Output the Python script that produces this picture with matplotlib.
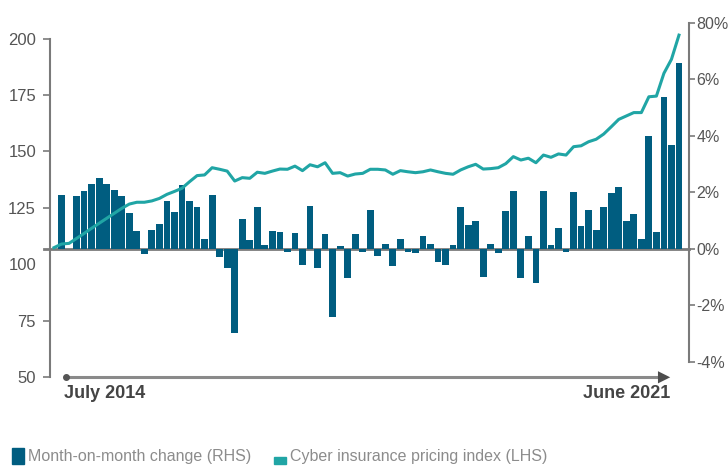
import numpy as np
import matplotlib
matplotlib.use("Agg")
import matplotlib.pyplot as plt

plt.rcParams['font.family'] = ['Liberation Sans', 'DejaVu Sans']

# === data ===
# month-on-month change (%), right axis
mom_change = [1.89, 0.0, 1.86, 2.04, 2.29, 2.50, 2.29, 2.08, 1.86, 1.26, 0.63, -0.18, 0.66, 0.87, 1.69, 1.30, 2.25, 1.69, 1.47, 0.34,
              1.89, -0.28, -0.67, -2.97, 1.05, 0.31, 1.47, 0.13, 0.63, 0.59, -0.11, 0.55, -0.57, 1.51, -0.67, 0.52, -2.41, 0.09, -1.03, 0.52,
              -0.11, 1.37, -0.25, 0.17, -0.60, 0.34, -0.11, -0.14, 0.45, 0.17, -0.46, -0.57, 0.13, 1.47, 0.84, 0.98, -0.99, 0.17, -0.14, 1.33,
              2.04, -1.03, 0.45, -1.20, 2.04, 0.13, 0.73, -0.11, 2.01, 0.80, 1.37, 0.66, 1.47, 1.97, 2.18, 0.98, 1.23, 0.34, 3.99, 0.59, 5.37, 3.67, 6.57]

# cyber insurance pricing index, left axis (one base point before the first bar)
pricing_index = [107.4, 109.0, 109.3, 111.5, 113.7, 116.0, 118.2, 120.4, 122.6, 124.8, 126.7, 127.5, 127.5, 128.1, 129.2, 131.0, 132.3, 133.7, 136.6, 139.3, 139.6,
                 142.8, 142.1, 141.3, 136.9, 138.4, 138.1, 140.8, 140.3, 141.3, 142.2, 142.1, 143.5, 141.5, 144.1, 143.2, 145.0, 140.3, 140.6, 139.1, 140.0,
                 140.3, 142.1, 142.1, 141.8, 139.9, 141.5, 141.0, 140.6, 141.0, 141.8, 141.0, 140.3, 139.9, 141.8, 143.2, 144.3, 142.2, 142.4, 142.8, 144.6,
                 147.7, 146.2, 147.0, 145.0, 148.4, 147.4, 148.9, 148.4, 152.1, 152.5, 154.3, 155.4, 157.7, 160.9, 164.2, 165.7, 167.2, 167.2, 174.2, 174.5,
                 184.6, 190.8, 201.5]

left_ticks = [50, 75, 100, 125, 150, 175, 200]
right_ticks = [-4, -2, 0, 2, 4, 6, 8]
right_labels = ['-4%', '-2%', '0%', '2%', '4%', '6%', '80%']
start_label = 'July 2014'
end_label = 'June 2021'

BAR_C = '#005d80'
LINE_C = '#20a5a5'
AXIS_C = '#7a7a7a'
TEXT_C = '#555555'

x_bar = np.arange(len(mom_change))
x_line = np.arange(-1, len(pricing_index) - 1)

fig = plt.figure(figsize=(7.28, 4.69), dpi=100)
ax = fig.add_axes([50 / 728, 91.7 / 469, 639 / 728, 354.6 / 469])
ax2 = ax.twinx()

# === bars on the right axis ===
ax2.bar(x_bar, mom_change, width=0.9, color=BAR_C, zorder=2)
ax2.axhline(0, xmin=-0.01, xmax=1, color=AXIS_C, lw=2, zorder=1, clip_on=False)
ax2.set_ylim(-4.55, 8)
ax2.set_yticks(right_ticks)
ax2.set_yticklabels(right_labels)
ax2.spines['right'].set_bounds(-4, 8)

# === line on the left axis (drawn on top) ===
ax.set_zorder(ax2.get_zorder() + 1)
ax.patch.set_visible(False)
ax.plot(x_line, pricing_index, color=LINE_C, lw=2.2, zorder=3)
ax.set_ylim(50, 207)
ax.set_yticks(left_ticks)
ax.spines['left'].set_bounds(50, 200)
ax.set_xlim(-1.53, 83.33)
ax.set_xticks([])
ax2.set_xticks([])

for a in (ax, ax2):
    for s in ('top', 'bottom'):
        a.spines[s].set_visible(False)
ax.spines['right'].set_visible(False)
ax2.spines['left'].set_visible(False)
ax.spines['left'].set_color(AXIS_C)
ax.spines['left'].set_linewidth(1.5)
ax2.spines['right'].set_color(AXIS_C)
ax2.spines['right'].set_linewidth(1.5)

ax.tick_params(axis='y', colors=AXIS_C, labelcolor=TEXT_C, labelsize=12, length=5, width=1.2, pad=5)
ax2.tick_params(axis='y', colors=AXIS_C, labelcolor=TEXT_C, labelsize=11.5, length=4, width=1.2, pad=1.5)
ax.yaxis.get_major_ticks()[2].tick1line.set_visible(False)

# === time arrow along the bottom ===
ax.plot([0.56, 80.2], [50, 50], color='#8a8a8a', lw=2.2, clip_on=False, zorder=4)
ax.plot([0.56], [50], 'o', color='#555555', ms=4, clip_on=False, zorder=5)
ax.annotate('', xy=(81.2, 50), xytext=(79.5, 50),
            arrowprops=dict(arrowstyle='-|>', color='#4d4d4d', mutation_scale=22, lw=0),
            annotation_clip=False, zorder=5)
ax.text(0.3, 46.5, start_label, ha='left', va='top', fontsize=13, fontweight='bold', color='#444444')
ax.text(80.9, 46.5, end_label, ha='right', va='top', fontsize=13, fontweight='bold', color='#444444')

# === legend ===
fig.patches.append(plt.Rectangle((12 / 728, 1 - 464 / 469), 12 / 728, 16 / 469, transform=fig.transFigure, color=BAR_C))
fig.text(28 / 728, 1 - 456 / 469, 'Month-on-month change (RHS)', ha='left', va='center', fontsize=11.5, color='#8c8c8c')
fig.patches.append(plt.Rectangle((274 / 728, 1 - 464 / 469), 12 / 728, 7 / 469, transform=fig.transFigure, color=LINE_C))
fig.text(290 / 728, 1 - 456 / 469, 'Cyber insurance pricing index (LHS)', ha='left', va='center', fontsize=11.5, color='#8c8c8c')

fig.savefig('out.png', dpi=100)
